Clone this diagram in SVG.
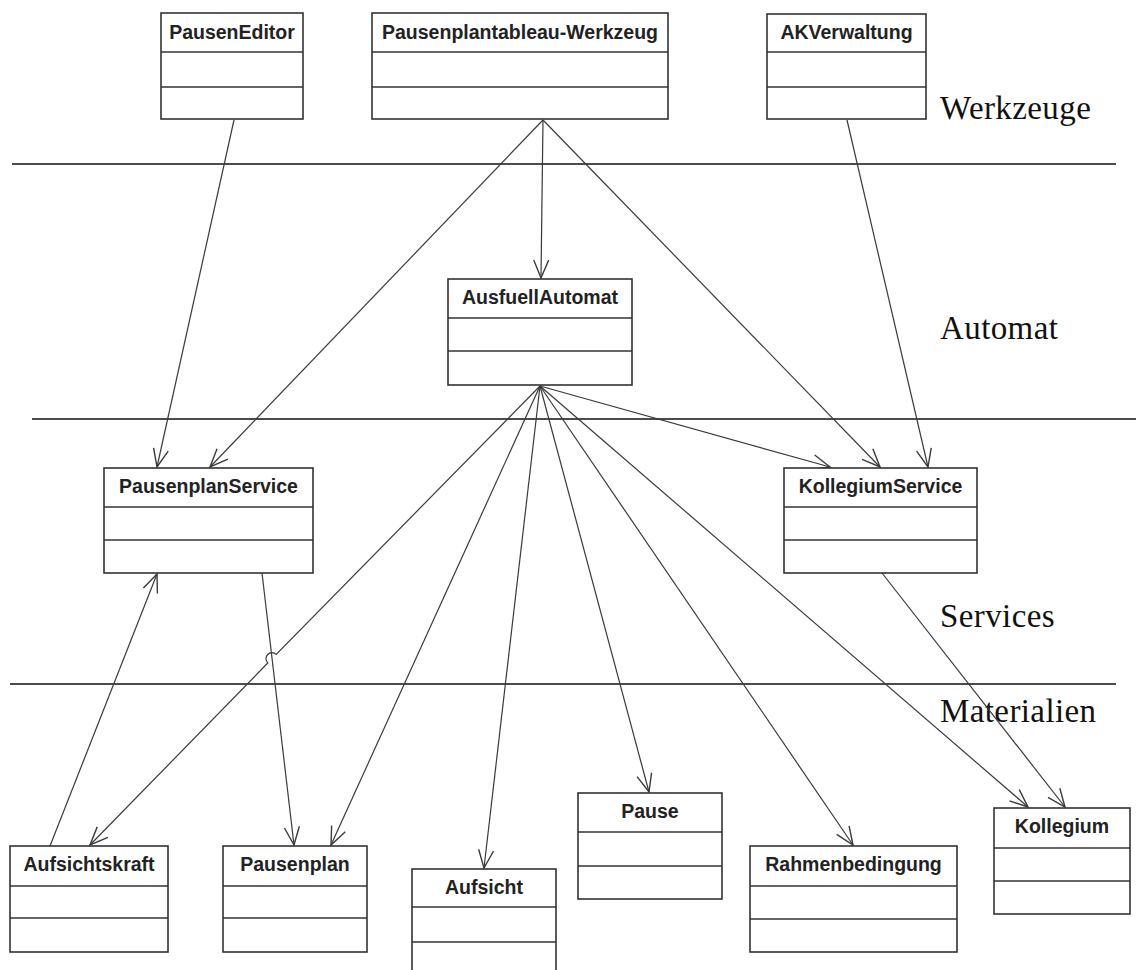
<svg xmlns="http://www.w3.org/2000/svg" width="1136" height="970" viewBox="0 0 1136 970">
  <style>
    .box rect { fill: #fff; stroke: #333; stroke-width: 1.6; }
    .box line { stroke: #333; stroke-width: 1.6; }
    .box text { font-family: "Liberation Sans", Arial, sans-serif; font-weight: bold; font-size: 19.5px; fill: #222; text-anchor: middle; }
    .layer { stroke: #111; stroke-width: 1.4; }
    .layer-label { font-family: "Liberation Serif", "Times New Roman", serif; font-size: 33px; letter-spacing: 0.4px; fill: #111; }
    #connectors path, #connectors line { fill: none; stroke: #3a3a3a; stroke-width: 1.2; marker-end: url(#open); }
  </style>
  <defs>
    <marker id="open" markerUnits="userSpaceOnUse" markerWidth="24" markerHeight="20" refX="0" refY="0" viewBox="-20 -10 24 20" orient="auto">
      <path d="M-18,-7.5 L0,0 L-18,7.5" fill="none" stroke="#3a3a3a" stroke-width="1.4"/>
    </marker>
  </defs>
  <rect width="1136" height="970" fill="#fff"/>

  <!-- layer separators and labels -->
  <g id="layers">
    <line class="layer" x1="12" y1="164" x2="1116" y2="164"/>
    <line class="layer" x1="32" y1="419" x2="1136" y2="419"/>
    <line class="layer" x1="10" y1="684" x2="1116" y2="684"/>
    <text class="layer-label" x="940" y="119">Werkzeuge</text>
    <text class="layer-label" x="940" y="339">Automat</text>
    <text class="layer-label" x="940" y="627">Services</text>
    <text class="layer-label" x="940" y="722">Materialien</text>
  </g>

  <!-- dependencies -->
  <g id="connectors">
    <line x1="234" y1="120" x2="157" y2="467"/>
    <line x1="543" y1="120" x2="541" y2="278"/>
    <line x1="543" y1="120" x2="210" y2="467"/>
    <line x1="543" y1="120" x2="880" y2="467"/>
    <line x1="847" y1="120" x2="928" y2="467"/>
    <line x1="540" y1="386" x2="830" y2="467"/>
    <path d="M540,386 L276.2,654.4 A6,6 0 0 0 267.8,663 L90,845"/>
    <line x1="540" y1="386" x2="331" y2="845"/>
    <line x1="540" y1="386" x2="484" y2="868"/>
    <line x1="540" y1="386" x2="649" y2="792"/>
    <line x1="540" y1="386" x2="853" y2="845"/>
    <line x1="540" y1="386" x2="1028" y2="807"/>
    <line x1="50" y1="846" x2="157" y2="574"/>
    <line x1="262" y1="573" x2="294" y2="845"/>
    <line x1="882" y1="573" x2="1065" y2="807"/>
  </g>

  <!-- tools -->
  <g id="PausenEditor" class="box">
    <rect x="161" y="13" width="142" height="106"/>
    <line x1="161" y1="52" x2="303" y2="52"/>
    <line x1="161" y1="87" x2="303" y2="87"/>
    <text x="232" y="39">PausenEditor</text>
  </g>
  <g id="PausenplantableauWerkzeug" class="box">
    <rect x="372" y="13" width="296" height="106"/>
    <line x1="372" y1="52" x2="668" y2="52"/>
    <line x1="372" y1="87" x2="668" y2="87"/>
    <text x="520" y="39">Pausenplantableau-Werkzeug</text>
  </g>
  <g id="AKVerwaltung" class="box">
    <rect x="767" y="14" width="159" height="105"/>
    <line x1="767" y1="52" x2="926" y2="52"/>
    <line x1="767" y1="87" x2="926" y2="87"/>
    <text x="846.5" y="39">AKVerwaltung</text>
  </g>

  <!-- automaton -->
  <g id="AusfuellAutomat" class="box">
    <rect x="448" y="279" width="184" height="106"/>
    <line x1="448" y1="318" x2="632" y2="318"/>
    <line x1="448" y1="351" x2="632" y2="351"/>
    <text x="540" y="304">AusfuellAutomat</text>
  </g>

  <!-- services -->
  <g id="PausenplanService" class="box">
    <rect x="104" y="468" width="209" height="105"/>
    <line x1="104" y1="507" x2="313" y2="507"/>
    <line x1="104" y1="540" x2="313" y2="540"/>
    <text x="208.5" y="493">PausenplanService</text>
  </g>
  <g id="KollegiumService" class="box">
    <rect x="784" y="468" width="193" height="105"/>
    <line x1="784" y1="507" x2="977" y2="507"/>
    <line x1="784" y1="540" x2="977" y2="540"/>
    <text x="880.5" y="493">KollegiumService</text>
  </g>

  <!-- materials -->
  <g id="Aufsichtskraft" class="box">
    <rect x="10" y="846" width="158" height="106"/>
    <line x1="10" y1="886" x2="168" y2="886"/>
    <line x1="10" y1="918" x2="168" y2="918"/>
    <text x="89" y="871">Aufsichtskraft</text>
  </g>
  <g id="Pausenplan" class="box">
    <rect x="223" y="846" width="144" height="106"/>
    <line x1="223" y1="886" x2="367" y2="886"/>
    <line x1="223" y1="918" x2="367" y2="918"/>
    <text x="295" y="871">Pausenplan</text>
  </g>
  <g id="Aufsicht" class="box">
    <rect x="412" y="869" width="144" height="110"/>
    <line x1="412" y1="907" x2="556" y2="907"/>
    <line x1="412" y1="942" x2="556" y2="942"/>
    <text x="484" y="894">Aufsicht</text>
  </g>
  <g id="Pause" class="box">
    <rect x="578" y="793" width="144" height="106"/>
    <line x1="578" y1="832" x2="722" y2="832"/>
    <line x1="578" y1="866" x2="722" y2="866"/>
    <text x="650" y="818">Pause</text>
  </g>
  <g id="Rahmenbedingung" class="box">
    <rect x="750" y="846" width="207" height="106"/>
    <line x1="750" y1="886" x2="957" y2="886"/>
    <line x1="750" y1="919" x2="957" y2="919"/>
    <text x="853.5" y="871">Rahmenbedingung</text>
  </g>
  <g id="Kollegium" class="box">
    <rect x="994" y="808" width="136" height="106"/>
    <line x1="994" y1="848" x2="1130" y2="848"/>
    <line x1="994" y1="881" x2="1130" y2="881"/>
    <text x="1062" y="833">Kollegium</text>
  </g>
</svg>
